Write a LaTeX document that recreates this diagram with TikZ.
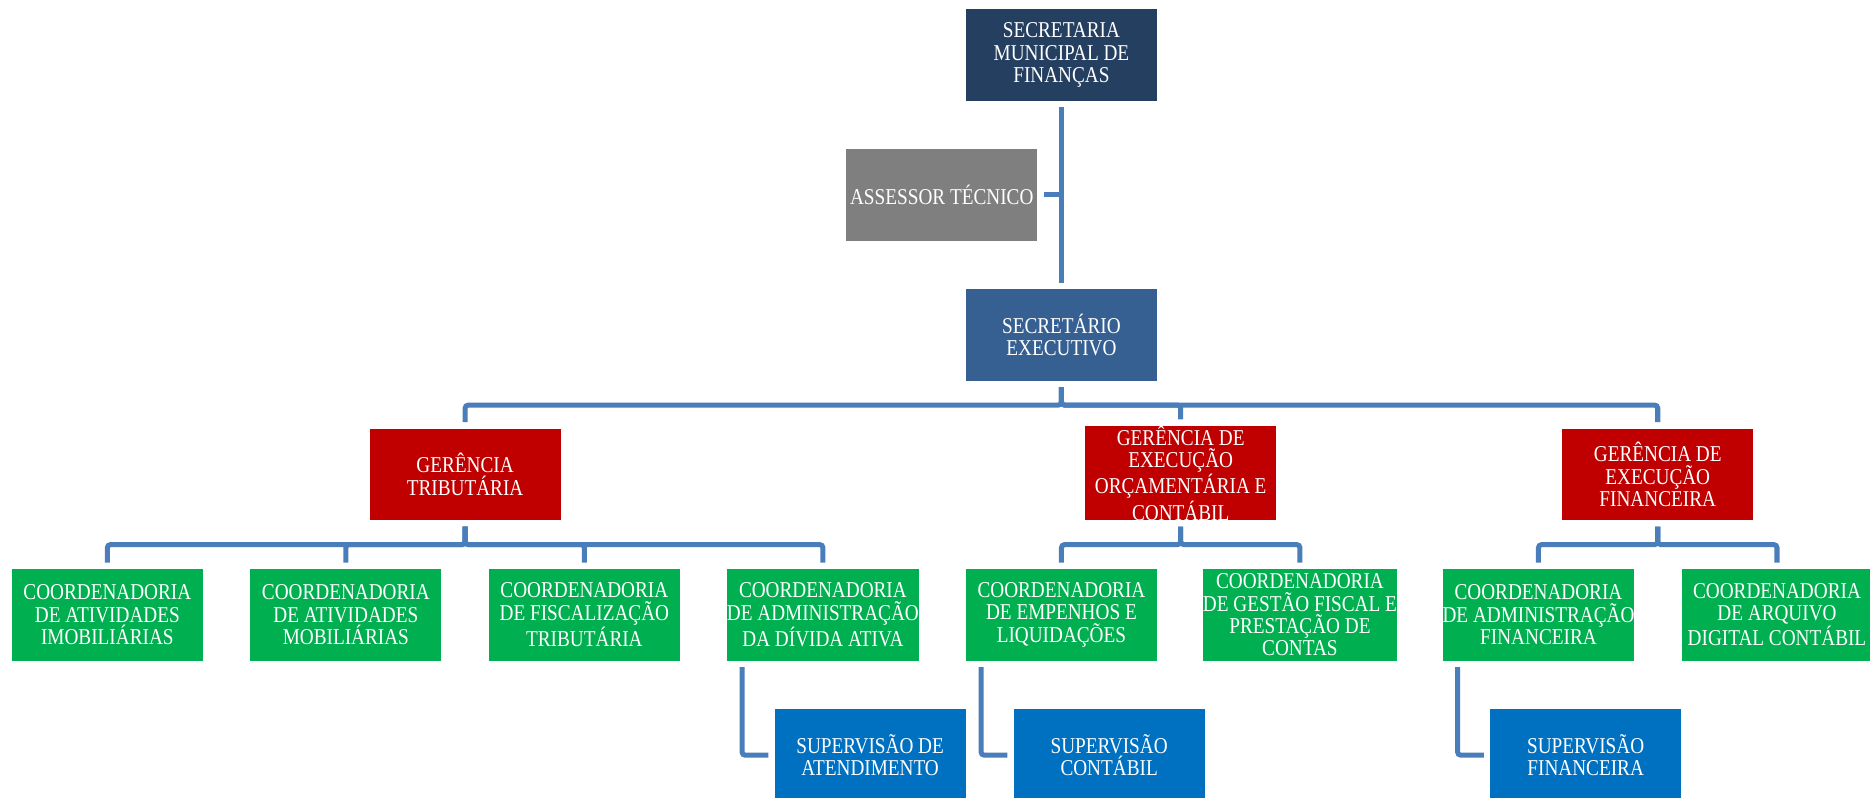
\documentclass[tikz,border=0pt]{standalone}
\usepackage{fontspec}
\newfontfamily\boxfont[FakeStretch=0.85]{Liberation Serif}
\usetikzlibrary{positioning,calc}
\definecolor{navytop}{RGB}{37,63,97}
\definecolor{execblue}{RGB}{54,96,146}
\definecolor{assgray}{RGB}{127,127,127}
\definecolor{gerred}{RGB}{192,0,0}
\definecolor{coordgreen}{RGB}{0,176,80}
\definecolor{supblue}{RGB}{0,112,192}
\definecolor{linkblue}{RGB}{74,126,187}

\begin{document}
\begin{tikzpicture}[
      node distance=8mm,
      topbox/.style={rectangle, fill=navytop, text=white, align=center, inner sep=0pt, minimum width=32mm, minimum height=15.4mm, font=\boxfont\fontsize{10.8}{10.6}\selectfont},
      exec/.style={rectangle, fill=execblue, text=white, align=center, inner sep=0pt, minimum width=32mm, minimum height=15.4mm, font=\boxfont\fontsize{10.8}{10.6}\selectfont},
      assessor/.style={rectangle, fill=assgray, text=white, align=center, inner sep=0pt, minimum width=32mm, minimum height=15.4mm, font=\boxfont\fontsize{10.8}{10.6}\selectfont},
      gerencia/.style={rectangle, fill=gerred, text=white, align=center, inner sep=0pt, minimum width=32mm, minimum height=15.4mm, font=\boxfont\fontsize{10.8}{10.6}\selectfont},
      coord/.style={rectangle, fill=coordgreen, text=white, align=center, inner sep=0pt, minimum width=32mm, minimum height=15.4mm, font=\boxfont\fontsize{10.8}{10.6}\selectfont},
      superv/.style={rectangle, fill=supblue, text=white, align=center, inner sep=0pt, minimum width=32mm, minimum height=15.4mm, font=\boxfont\fontsize{10.8}{10.6}\selectfont},
      line/.style={draw=linkblue, line width=2.4pt, rounded corners=1.5pt, shorten <=1mm, shorten >=1mm}
  ]
      \useasboundingbox (0,0) rectangle (31.36,-13.38);

      % Coordenadorias - one row, 40mm from centre to centre
      \node (coord_imob) [coord] at (1.8,-10.31) {COORDENADORIA\\DE ATIVIDADES\\IMOBILIÁRIAS};
      \node (coord_mob) [coord, on grid, right=40mm of coord_imob] {COORDENADORIA\\DE ATIVIDADES\\MOBILIÁRIAS};
      \node (coord_fisc) [coord, on grid, right=40mm of coord_mob] {COORDENADORIA\\DE FISCALIZAÇÃO\\TRIBUTÁRIA};
      \node (coord_div) [coord, on grid, right=40mm of coord_fisc] {COORDENADORIA\\DE ADMINISTRAÇÃO\\DA DÍVIDA ATIVA};
      \node (coord_emp) [coord, on grid, right=40mm of coord_div] {COORDENADORIA\\DE EMPENHOS E\\LIQUIDAÇÕES};
      \node (coord_gest) [coord, on grid, right=40mm of coord_emp] {COORDENADORIA\\DE GESTÃO FISCAL E\\PRESTAÇÃO DE\\CONTAS};
      \node (coord_adm) [coord, on grid, right=40mm of coord_gest] {COORDENADORIA\\DE ADMINISTRAÇÃO\\FINANCEIRA};
      \node (coord_arq) [coord, on grid, right=40mm of coord_adm] {COORDENADORIA\\DE ARQUIVO\\DIGITAL CONTÁBIL};

      % Gerencias - centred over their coordenadorias
      \node (ger_trib) [gerencia, anchor=south] at ($(coord_mob.north)!0.5!(coord_fisc.north)+(0,8mm)$) {GERÊNCIA\\TRIBUTÁRIA};
      \node (ger_orc) [gerencia, anchor=south] at ($(coord_emp.north)!0.5!(coord_gest.north)+(0,8mm)$) {GERÊNCIA DE\\EXECUÇÃO\\ORÇAMENTÁRIA E\\CONTÁBIL};
      \node (ger_fin) [gerencia, anchor=south] at ($(coord_adm.north)!0.5!(coord_arq.north)+(0,8mm)$) {GERÊNCIA DE\\EXECUÇÃO\\FINANCEIRA};

      % Top of the chart
      \node (sec_exec) [exec, anchor=south] at ($(coord_emp.north)+(0,31.4mm)$) {SECRETÁRIO\\EXECUTIVO};
      \node (sec_mun) [topbox, above=31.4mm of sec_exec] {SECRETARIA\\MUNICIPAL DE\\FINANÇAS};
      \node (assessor) [assessor, anchor=east, xshift=-4mm] at ($(sec_mun.south)!0.5!(sec_exec.north)$) {ASSESSOR TÉCNICO};
      \coordinate (spine) at (assessor.east -| sec_mun.south);

      % Supervisoes
      \node (sup_atend) [superv, below right=8mm and 8mm of coord_div.south west] {SUPERVISÃO DE\\ATENDIMENTO};
      \node (sup_cont) [superv, below right=8mm and 8mm of coord_emp.south west] {SUPERVISÃO\\CONTÁBIL};
      \node (sup_fin) [superv, below right=8mm and 8mm of coord_adm.south west] {SUPERVISÃO\\FINANCEIRA};

      % Connections
      \path [line] (sec_mun) -- (sec_exec);
      \path [line, shorten >=0pt] (assessor) -- (spine);
      \path [line] (sec_exec.south) -- ++(0,-4mm) -| (ger_trib.north);
      \path [line] (sec_exec.south) -- ++(0,-4mm) -| (ger_orc.north);
      \path [line] (sec_exec.south) -- ++(0,-4mm) -| (ger_fin.north);

      \path [line] (ger_trib.south) -- ++(0,-4mm) -| (coord_imob.north);
      \path [line] (ger_trib.south) -- ++(0,-4mm) -| (coord_mob.north);
      \path [line] (ger_trib.south) -- ++(0,-4mm) -| (coord_fisc.north);
      \path [line] (ger_trib.south) -- ++(0,-4mm) -| (coord_div.north);
      \path [line] (ger_orc.south) -- ++(0,-4mm) -| (coord_emp.north);
      \path [line] (ger_orc.south) -- ++(0,-4mm) -| (coord_gest.north);
      \path [line] (ger_fin.south) -- ++(0,-4mm) -| (coord_adm.north);
      \path [line] (ger_fin.south) -- ++(0,-4mm) -| (coord_arq.north);

      \path [line] ([xshift=2.6mm]coord_div.south west) |- (sup_atend.west);
      \path [line] ([xshift=2.6mm]coord_emp.south west) |- (sup_cont.west);
      \path [line] ([xshift=2.6mm]coord_adm.south west) |- (sup_fin.west);
  \end{tikzpicture}
\end{document}
